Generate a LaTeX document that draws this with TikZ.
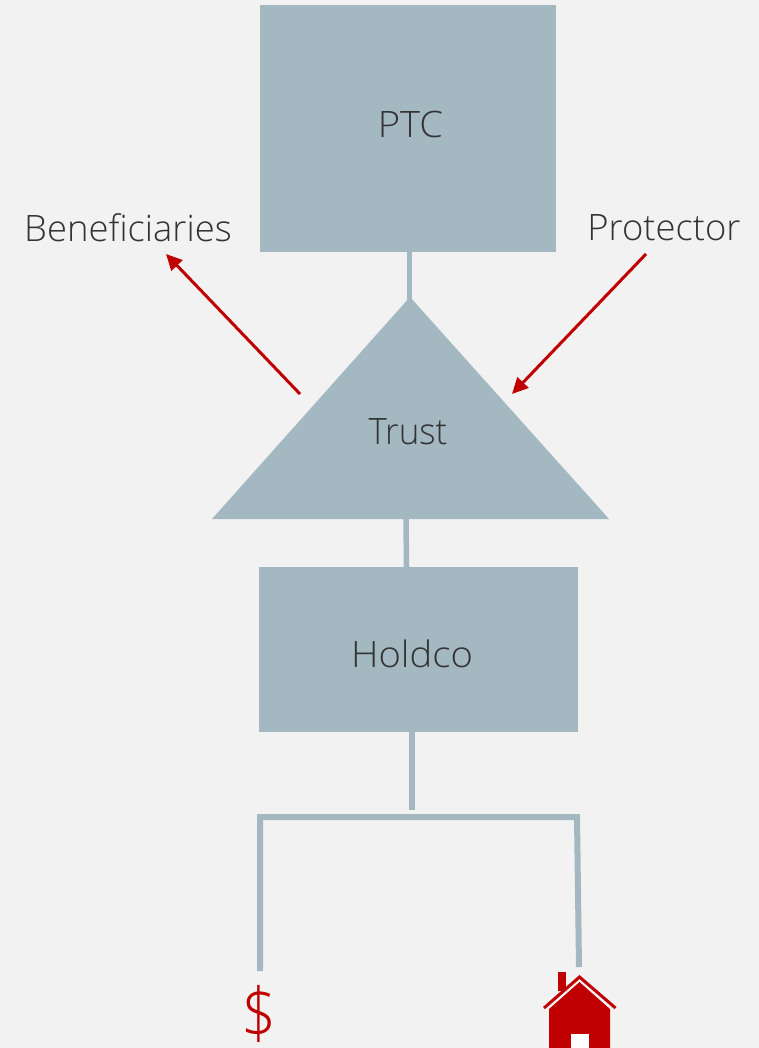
\documentclass[tikz,border=0pt]{standalone}
\usepackage{fontspec}
\setmainfont{Open Sans Light}
\usetikzlibrary{arrows.meta}
\definecolor{bgc}{HTML}{F2F2F2}
\definecolor{slate}{HTML}{A3B8C1}
\definecolor{txt}{HTML}{333333}
\definecolor{redc}{HTML}{C00000}
\tikzset{
  boxnode/.style={fill=slate,draw=none,inner sep=0pt,anchor=north west},
  label/.style={text=txt,font=\fontsize{36.4}{42}\selectfont,inner sep=0pt},
  link/.style={draw=slate,line width=6pt,line join=miter},
  thinlink/.style={draw=slate,line width=5.5pt},
  redarrow/.style={draw=redc,line width=3pt,-{Triangle[length=16pt,width=15pt]}},
}
\begin{document}
\begin{tikzpicture}[x=1pt,y=-1pt]
\useasboundingbox (0,0) rectangle (759,1048);
\fill[bgc] (0,0) rectangle (759,1048);
\clip (0,0) rectangle (759,1048);
\coordinate (apex) at (410,297);
\coordinate (baseL) at (212,519);
\coordinate (baseR) at (609,519);
\node[boxnode,minimum width=296pt,minimum height=247pt] (ptc) at (260,5) {};
\node[boxnode,minimum width=319pt,minimum height=165pt] (holdco) at (259,567) {};
\coordinate (ptcfoot) at (409.5,252);
\coordinate (apexin) at (409.5,300);
\coordinate (trustfoot) at (406,519);
\coordinate (holdtop) at (406.5,567);
\coordinate (holdfoot) at (412,732);
\coordinate (junction) at (412,810);
\coordinate (brL) at (260,971);
\coordinate (brTL) at (260,817);
\coordinate (brTR) at (577,817);
\coordinate (brR) at (579,967);
\draw[thinlink] (ptcfoot) -- (apexin);
\draw[thinlink] (trustfoot) -- (holdtop);
\draw[link] (holdfoot) -- (junction);
\draw[link] (brL) -- (brTL) -- (brTR) -- (brR);
\fill[slate] (apex) -- (baseR) -- (baseL) -- cycle;
\node[label,xscale=1.05] (ptclabel) at (410.5,125) {PTC};
\node[label,xscale=0.96] (trust) at (408,432) {Trust};
\node[label,xscale=1.05] (holdcolabel) at (412,654) {Holdco};
\node[label] (beneficiaries) at (128,228) {Beneficiaries};
\node[label] (protector) at (664,228) {Protector};
\coordinate (benstart) at (300,394);
\coordinate (bentip) at (166,254);
\coordinate (prostart) at (646,254);
\coordinate (protip) at (512,394);
\draw[redarrow] (benstart) -- (bentip);
\draw[redarrow] (prostart) -- (protip);
\node[text=redc,font=\fontsize{70}{74}\selectfont,inner sep=0pt,xscale=0.88] (dollar) at (259.5,1014) {\$};
\fill[redc] (558,972) rectangle (566,991);
\fill[redc] (549,1009) -- (579.5,982) -- (610,1009) -- (610,1048) -- (549,1048) -- cycle;
\draw[bgc,line width=1.5pt] (546,1010) -- (579.5,980.5) -- (613,1010);
\draw[redc,line width=3pt] (544,1008) -- (579.5,977) -- (615.5,1008);
\fill[white] (571,1034) rectangle (589,1048);
\end{tikzpicture}
\end{document}
